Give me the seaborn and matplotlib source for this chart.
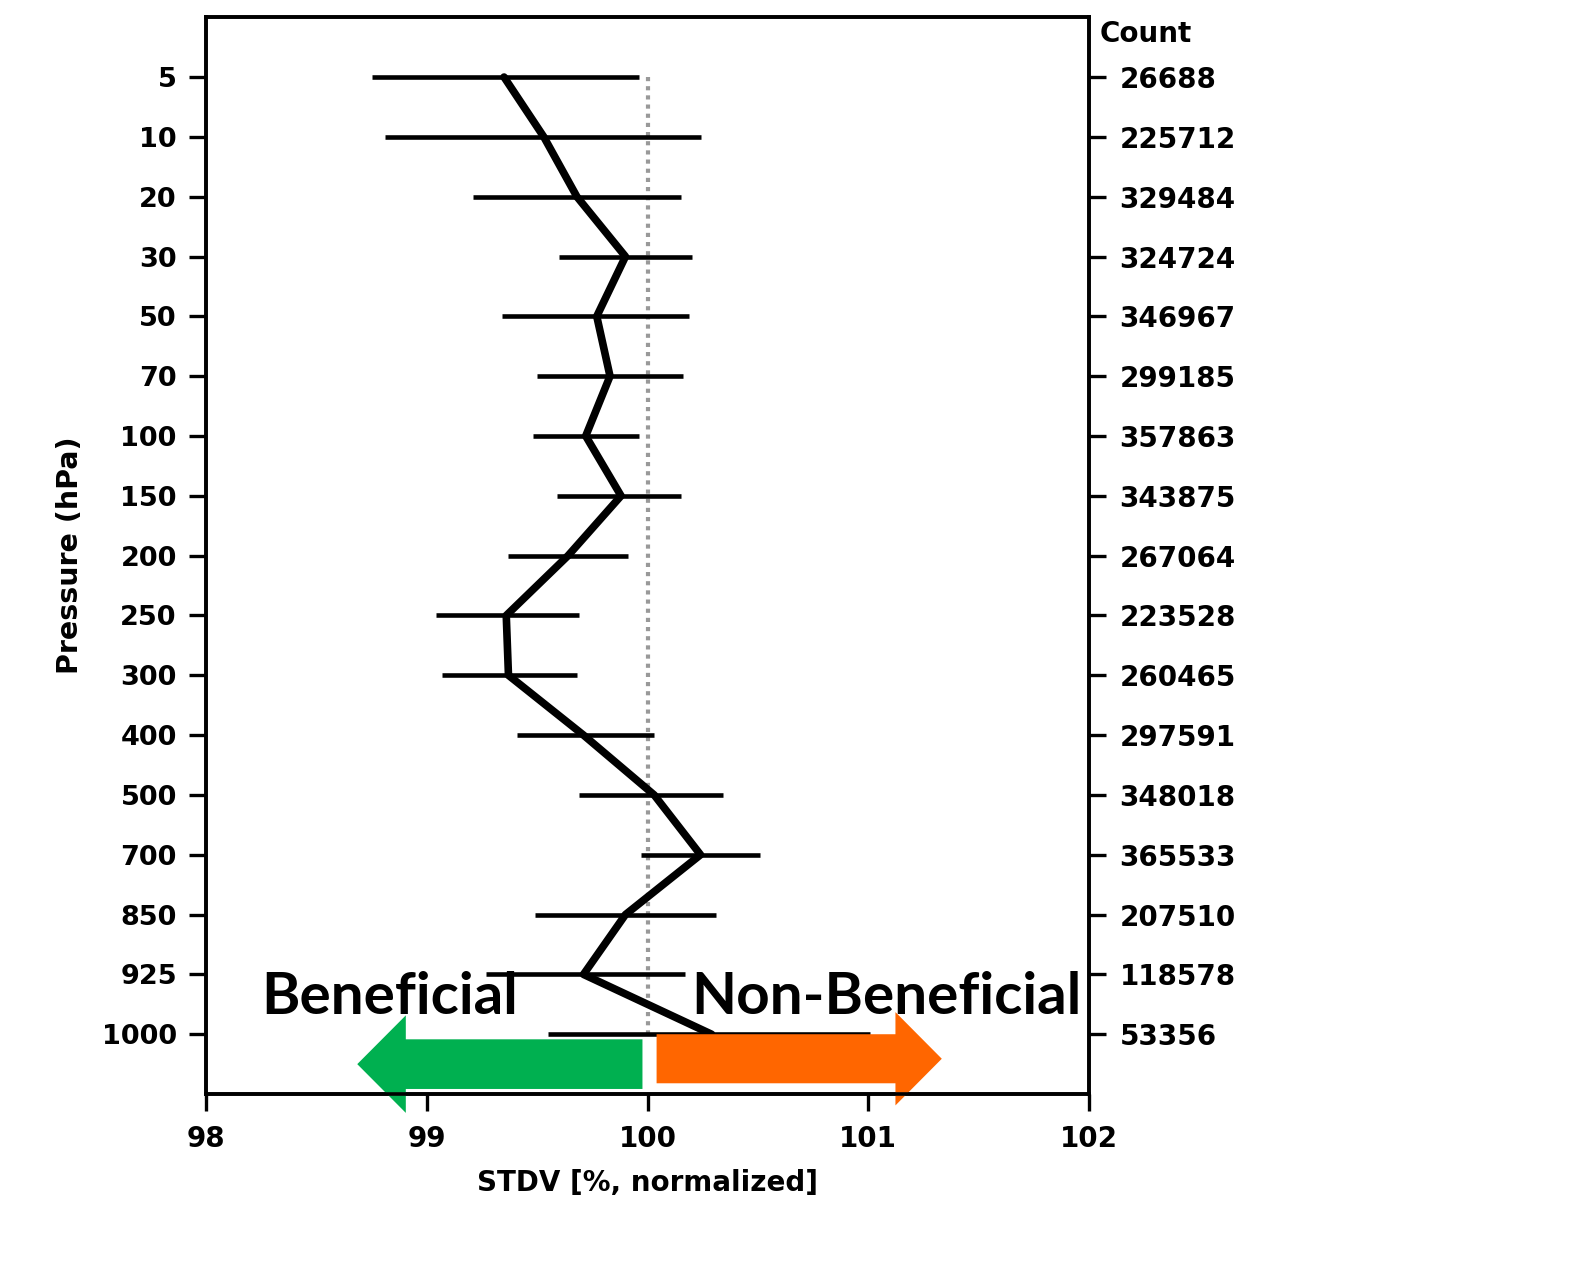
import matplotlib
matplotlib.use("Agg")
import matplotlib.pyplot as plt
from matplotlib.patches import FancyArrow
import numpy as np
import pandas as pd
import seaborn as sns

# pressure levels, normalised STDV and its spread, observation counts
levels = [5, 10, 20, 30, 50, 70, 100, 150, 200, 250, 300, 400, 500, 700, 850, 925, 1000]
stdv = [99.35, 99.53, 99.68, 99.90, 99.77, 99.83, 99.72, 99.88, 99.64, 99.36,
        99.37, 99.71, 100.03, 100.24, 99.90, 99.71, 100.29]
stdv_low = [98.75, 98.81, 99.21, 99.60, 99.34, 99.50, 99.48, 99.59, 99.37, 99.04,
            99.07, 99.41, 99.69, 99.97, 99.49, 99.27, 99.55]
stdv_high = [99.96, 100.24, 100.15, 100.20, 100.19, 100.16, 99.96, 100.15, 99.91, 99.69,
             99.68, 100.03, 100.34, 100.51, 100.31, 100.17, 101.01]
counts = [26688, 225712, 329484, 324724, 346967, 299185, 357863, 343875, 267064,
          223528, 260465, 297591, 348018, 365533, 207510, 118578, 53356]

df = pd.DataFrame({"level": levels, "stdv": stdv, "low": stdv_low,
                   "high": stdv_high, "count": counts})
df["pos"] = np.arange(len(df))

sns.set_style("ticks")
plt.rcParams["font.family"] = ["DejaVu Sans"]
plt.rcParams["font.weight"] = "bold"
for key in ["text.color", "axes.labelcolor", "xtick.color", "ytick.color", "axes.edgecolor"]:
    plt.rcParams[key] = "black"

fig = plt.figure(figsize=(15.91, 12.85), dpi=100)
ax = fig.add_axes([0.1295, 0.1486, 0.555, 0.838])

# spread bars
ax.hlines(df["pos"], df["low"], df["high"], color="black", lw=3.3, zorder=2)
# reference line
ax.vlines(100, df["pos"].min(), df["pos"].max(), color="#999999", lw=3,
          linestyles=(0, (1, 1.2)), zorder=1)
sns.lineplot(data=df, x="stdv", y="pos", orient="y", sort=False, color="black",
             lw=5.5, errorbar=None, ax=ax, zorder=3)

ax.set_xlim(98, 102)
ax.set_ylim(len(df), -1)
ax.set_xticks([98, 99, 100, 101, 102])
ax.set_yticks(df["pos"])
ax.set_yticklabels(df["level"])
ax.set_xlabel("STDV [%, normalized]", fontsize=20, fontweight="bold", labelpad=12)
ax.set_ylabel("Pressure (hPa)", fontsize=20.5, fontweight="bold", labelpad=13)
ax.tick_params(axis="y", length=12, width=2.4, pad=9, labelsize=19.5)
ax.tick_params(axis="x", length=12, width=2.4, pad=10, labelsize=20)
for s in ax.spines.values():
    s.set_linewidth(2.6)

ax2 = ax.twinx()
ax2.set_ylim(ax.get_ylim())
ax2.set_yticks(df["pos"])
ax2.set_yticklabels(df["count"])
ax2.tick_params(axis="y", length=12, width=2.4, pad=10, labelsize=20)
for s in ax2.spines.values():
    s.set_linewidth(2.6)
ax2.text(1.012, 0.997, "Count", transform=ax.transAxes, ha="left", va="top",
         fontsize=20, fontweight="bold")

# beneficial / non-beneficial overlay
ax.add_patch(FancyArrow(99.977, 16.50, -1.292, 0, width=0.83, head_width=1.63,
                        head_length=0.22, length_includes_head=True,
                        color="#00B050", lw=0, clip_on=False, zorder=5))
ax.add_patch(FancyArrow(100.041, 16.41, 1.292, 0, width=0.82, head_width=1.56,
                        head_length=0.21, length_includes_head=True,
                        color="#FF6600", lw=0, clip_on=False, zorder=5))
ax.text(98.25, 15.66, "Beneficial", family="Lato", fontweight="bold",
        fontsize=42, va="baseline", ha="left", zorder=6)
ax.text(100.2, 15.66, "Non-Beneficial", family="Lato", fontweight="bold",
        fontsize=42, va="baseline", ha="left", zorder=6)

fig.savefig("out.png", dpi=100, facecolor="white")
